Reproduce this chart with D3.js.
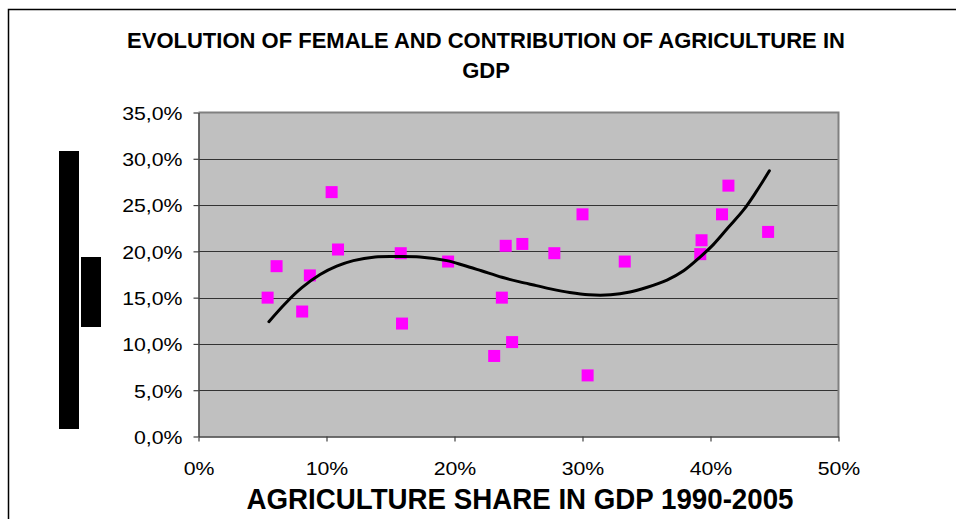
<!DOCTYPE html>
<html>
<head>
<meta charset="utf-8">
<script src="https://cdn.jsdelivr.net/npm/d3@7"></script>
<style>
  body { margin: 0; background: #fff; }
  svg { display: block; font-family: "Liberation Sans", Arial, sans-serif; }
</style>
</head>
<body>
<svg id="chart" width="956" height="519"></svg>
<script>
// Scatter points: agriculture share in GDP (x) vs female share (y), in percent
var agriShare = [5.4, 6.1, 8.1, 8.7, 10.4, 10.9, 15.8, 15.9, 19.5, 23.1, 23.7, 24.0,
                 24.5, 25.3, 27.8, 30.0, 30.4, 33.3, 39.2, 39.3, 40.9, 41.4, 44.5];
var femaleShare = [15.0, 18.4, 13.5, 17.4, 26.4, 20.2, 19.8, 12.2, 18.9, 8.7, 15.0, 20.6,
                   10.2, 20.8, 19.8, 24.0, 6.6, 18.9, 19.7, 21.2, 24.0, 27.1, 22.1];

// Trend line
var trendX = [5.5, 6.8, 8.1, 9.5, 10.8, 12.1, 13.8, 15.5, 17.3, 19.4, 20.7, 22.1, 23.7, 25.1,
              26.4, 27.5, 29.0, 30.5, 32.2, 33.7, 35.0, 36.6, 37.9, 39.2, 40.2, 41.4, 42.6, 43.6, 44.6];
var trendY = [12.4, 14.4, 16.1, 17.5, 18.4, 19.0, 19.4, 19.45, 19.4, 19.0, 18.5, 17.9, 17.2, 16.7,
              16.3, 15.95, 15.55, 15.3, 15.3, 15.6, 16.1, 16.9, 17.9, 19.4, 20.7, 22.6, 24.5, 26.5, 28.7];

// Axis ticks
var xTicks = [0, 10, 20, 30, 40, 50];
var yTicks = [0, 5, 10, 15, 20, 25, 30, 35];

var titleLines = ["EVOLUTION OF FEMALE AND CONTRIBUTION OF AGRICULTURE IN", "GDP"];
var xTitle = "AGRICULTURE SHARE IN GDP 1990-2005";

/*
** SETUP
*/
var svg = d3.select("#chart");
var plot = { left: 198.5, right: 838.5, top: 112.5, bottom: 436.5 };

var x = d3.scaleLinear().domain([0, 50]).range([plot.left, plot.right]);
var y = d3.scaleLinear().domain([0, 35]).range([plot.bottom, plot.top]);

var fmtY = d3.format(".1f");

// outer chart frame (runs off the right and bottom edges)
svg.append("path")
  .attr("d", "M8.5,530 V9.5 H970")
  .attr("fill", "none")
  .attr("stroke", "#000")
  .attr("stroke-width", 1.5);

// plot area
svg.append("rect")
  .attr("x", plot.left).attr("y", plot.top)
  .attr("width", plot.right - plot.left).attr("height", plot.bottom - plot.top)
  .attr("fill", "#c0c0c0");

// gridlines
svg.append("g")
  .selectAll("line")
  .data(yTicks.filter(d => d > 0 && d < 35))
  .enter()
  .append("line")
    .attr("x1", plot.left).attr("x2", plot.right)
    .attr("y1", d => Math.round(y(d)) + 0.5).attr("y2", d => Math.round(y(d)) + 0.5)
    .attr("stroke", "#333")
    .attr("stroke-width", 1);

// top and right border
svg.append("path")
  .attr("d", `M${plot.left},${plot.top} H${plot.right} V${plot.bottom}`)
  .attr("fill", "none")
  .attr("stroke", "#808080")
  .attr("stroke-width", 2);

// axes
var xAxis = svg.append("g")
  .attr("transform", `translate(0,${plot.bottom})`)
  .call(d3.axisBottom(x).tickValues(xTicks).tickSize(5).tickSizeOuter(0)
    .tickFormat(d => d + "%"));

var yAxis = svg.append("g")
  .attr("transform", `translate(${plot.left},0)`)
  .call(d3.axisLeft(y).tickValues(yTicks).tickSize(5).tickSizeOuter(0)
    .tickFormat(d => fmtY(d).replace(".", ",") + "%"));

[xAxis, yAxis].forEach(a => {
  a.select(".domain").attr("stroke", "#404040").attr("stroke-width", 1.5);
  a.selectAll(".tick line").attr("stroke", "#404040").attr("stroke-width", 1.2);
  a.selectAll("text")
    .attr("fill", "#000")
    .style("font-family", "'Liberation Sans', Arial, sans-serif")
    .style("font-size", "19px");
});

xAxis.selectAll("text").attr("y", 38).attr("dy", 0);
yAxis.selectAll("text").attr("x", -16).attr("dy", "0.36em");

// the picture has the tick labels a bit wide
[xAxis, yAxis].forEach(a => {
  a.selectAll("text").each(function () {
    var w = this.getComputedTextLength();
    d3.select(this).attr("textLength", w * 1.12).attr("lengthAdjust", "spacingAndGlyphs");
  });
});

/*
** MARKS
*/
var points = agriShare.map((v, i) => ({ x: v, y: femaleShare[i] }));
var size = 12;

svg.append("g")
  .selectAll("rect")
  .data(points)
  .enter()
  .append("rect")
    .attr("x", d => x(d.x) - size / 2)
    .attr("y", d => y(d.y) - size / 2)
    .attr("width", size)
    .attr("height", size)
    .attr("fill", "#ff00ff");

var trend = trendX.map((v, i) => [v, trendY[i]]);
svg.append("path")
  .datum(trend)
  .attr("fill", "none")
  .attr("stroke", "#000")
  .attr("stroke-width", 3)
  .attr("stroke-linecap", "round")
  .attr("d", d3.line().x(d => x(d[0])).y(d => y(d[1])).curve(d3.curveCatmullRom));

/*
** TEXT
*/
svg.append("g")
  .selectAll("text")
  .data(titleLines)
  .enter()
  .append("text")
    .attr("x", 486)
    .attr("y", (d, i) => 48 + i * 30)
    .attr("text-anchor", "middle")
    .style("font-size", "22px")
    .style("font-weight", "bold")
    .text(d => d);

svg.append("text")
  .attr("x", 520)
  .attr("y", 509)
  .attr("text-anchor", "middle")
  .attr("textLength", 547)
  .attr("lengthAdjust", "spacingAndGlyphs")
  .style("font-size", "29px")
  .style("font-weight", "bold")
  .text(xTitle);

// blacked out y axis title blocks
svg.append("rect").attr("x", 59).attr("y", 151).attr("width", 20).attr("height", 278).attr("fill", "#000");
svg.append("rect").attr("x", 81).attr("y", 257).attr("width", 20).attr("height", 70).attr("fill", "#000");
</script>
</body>
</html>
